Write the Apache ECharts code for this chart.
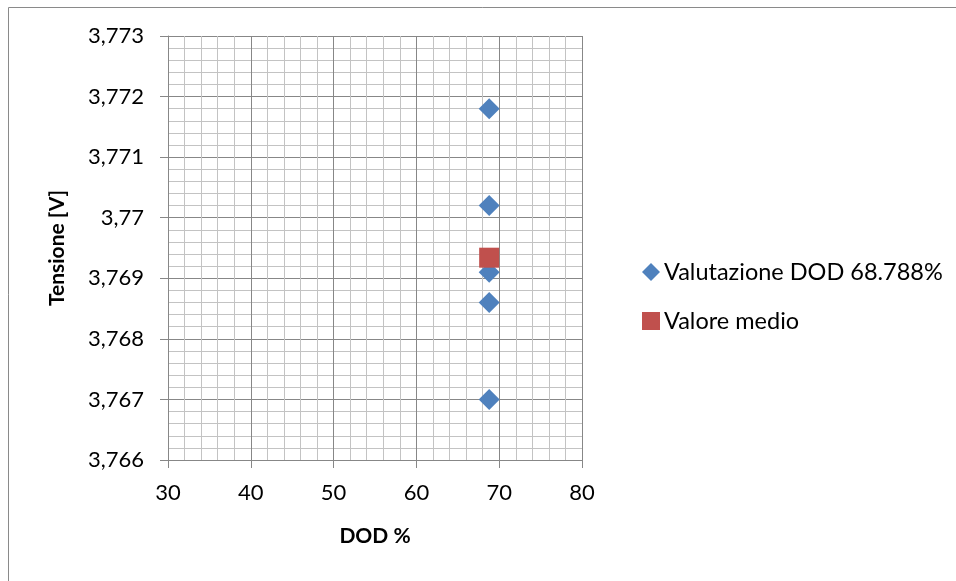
<!DOCTYPE html>
<html>
<head>
<meta charset="utf-8">
<script src="https://cdn.jsdelivr.net/npm/echarts@6/dist/echarts.min.js"></script>
<style>
  html, body { margin: 0; padding: 0; background: #fff; }
  #chart { width: 956px; height: 581px; }
</style>
</head>
<body>
<div id="chart"></div>
<script>
// Misure di tensione alla profondità di scarica indicata
const dodLevels = [68.788, 68.788, 68.788, 68.788, 68.788];
const voltages = [3.7718, 3.7702, 3.7691, 3.7686, 3.7670];

// Valore medio delle misure
const meanDod = [68.788];
const meanVoltage = [3.76934];

const seriesNames = ['Valutazione DOD 68.788%', 'Valore medio'];

const FONT = 'Lato, "Open Sans", sans-serif';
const MAJOR = '#878787';
const MINOR = '#c3c3c3';

function itNumber(v) {
  return String(+v.toFixed(4)).replace('.', ',');
}

const chart = echarts.init(document.getElementById('chart'), null, { renderer: 'canvas' });

chart.setOption({
  animation: false,
  backgroundColor: '#ffffff',
  graphic: [{
    type: 'rect',
    shape: { x: 8.5, y: 7.5, width: 1000, height: 1000 },
    style: { fill: 'none', stroke: '#8a8a8a', lineWidth: 1 },
    silent: true,
    z: -10
  }],
  grid: { left: 168, top: 36, width: 414, height: 424 },
  legend: {
    orient: 'vertical',
    left: 637,
    top: 255,
    itemWidth: 18,
    itemHeight: 18,
    itemGap: 25,
    textStyle: { fontFamily: FONT, fontSize: 23.5, color: '#000', padding: [0, 0, 0, -1] },
    data: [
      { name: seriesNames[0], icon: 'diamond' },
      { name: seriesNames[1], icon: 'rect' }
    ]
  },
  xAxis: {
    type: 'value',
    min: 30, max: 80, interval: 10,
    name: 'DOD %',
    nameLocation: 'middle',
    nameGap: 66,
    nameTextStyle: { fontFamily: FONT, fontSize: 21, fontWeight: 'bold', color: '#000' },
    axisLine: { show: true, lineStyle: { color: MAJOR, width: 1 } },
    axisTick: { show: true, length: 8, lineStyle: { color: MAJOR } },
    axisLabel: { fontFamily: FONT, fontSize: 22, color: '#000', margin: 22 },
    splitLine: { show: true, lineStyle: { color: MAJOR, width: 1 } },
    minorTick: { show: false, splitNumber: 5 },
    minorSplitLine: { show: true, lineStyle: { color: MINOR, width: 1 } }
  },
  yAxis: {
    type: 'value',
    min: 3.766, max: 3.773, interval: 0.001,
    name: 'Tensione [V]',
    nameLocation: 'middle',
    nameGap: 100,
    nameRotate: 90,
    nameTextStyle: { fontFamily: FONT, fontSize: 21, fontWeight: 'bold', color: '#000' },
    axisLine: { show: true, lineStyle: { color: MAJOR, width: 1 } },
    axisTick: { show: true, length: 8, lineStyle: { color: MAJOR } },
    axisLabel: { fontFamily: FONT, fontSize: 22, color: '#000', margin: 24, formatter: itNumber },
    splitLine: { show: true, lineStyle: { color: MAJOR, width: 1 } },
    minorTick: { show: false, splitNumber: 5 },
    minorSplitLine: { show: true, lineStyle: { color: MINOR, width: 1 } }
  },
  series: [
    {
      name: seriesNames[0],
      type: 'scatter',
      symbol: 'diamond',
      symbolSize: [21, 21],
      itemStyle: { color: '#4F81BD', opacity: 1 },
      data: dodLevels.map((d, i) => [d, voltages[i]]),
      z: 3
    },
    {
      name: seriesNames[1],
      type: 'scatter',
      symbol: 'rect',
      symbolSize: [20, 20],
      itemStyle: { color: '#C0504D', opacity: 1 },
      data: meanDod.map((d, i) => [d, meanVoltage[i]]),
      z: 4
    }
  ]
});
</script>
</body>
</html>
